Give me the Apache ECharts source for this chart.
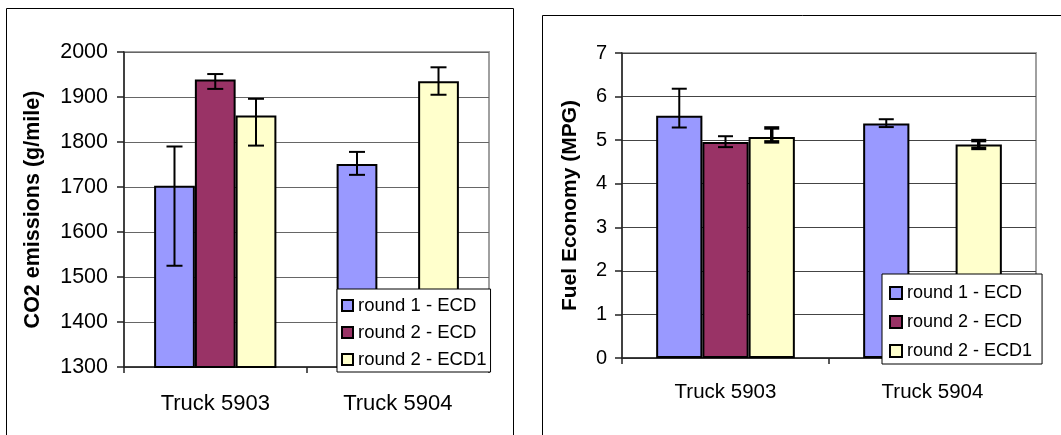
<!DOCTYPE html>
<html>
<head>
<meta charset="utf-8">
<script src="https://cdn.jsdelivr.net/npm/echarts@6/dist/echarts.min.js"></script>
<style>
html,body{margin:0;padding:0;background:#fff;}
#chart{width:1061px;height:435px;}
</style>
</head>
<body>
<div id="chart"></div>
<script>
// ---- data ----
const categories = ['Truck 5903', 'Truck 5904'];
const seriesNames = ['round 1 - ECD', 'round 2 - ECD', 'round 2 - ECD1'];

// CO2 emissions (g/mile)
const co2Round1 = [1703, 1751];
const co2Round2 = [1939, null];
const co2Round2b = [1859, 1935];
const co2Round1Low = [1525, 1727];
const co2Round1High = [1790, 1778];
const co2Round2Low = [1918, null];
const co2Round2High = [1951, null];
const co2Round2bLow = [1792, 1905];
const co2Round2bHigh = [1896, 1966];

// Fuel economy (MPG)
const mpgRound1 = [5.56, 5.38];
const mpgRound2 = [4.96, null];
const mpgRound2b = [5.07, 4.90];
const mpgRound1Low = [5.29, 5.30];
const mpgRound1High = [6.18, 5.48];
const mpgRound2Low = [4.84, null];
const mpgRound2High = [5.09, null];
const mpgRound2bLow = [4.96, 4.81];
const mpgRound2bHigh = [5.28, 4.99];

const co2Ticks = [1300, 2000, 100];
const mpgTicks = [0, 7, 1];

// ---- styling ----
const colors = ['#9999FF', '#993366', '#FFFFCC'];
const FONT = 'Liberation Sans, Arial, sans-serif';
const GAP_RATIO = 0.33;

function errData(lows, highs) {
  const out = [];
  for (let i = 0; i < lows.length; i++) {
    if (lows[i] != null && highs[i] != null) out.push([i, lows[i], highs[i]]);
  }
  return out;
}

function errSeries(gridIdx, k, lows, highs, lw, capW) {
  return {
    type: 'custom',
    xAxisIndex: gridIdx,
    yAxisIndex: gridIdx,
    z: 5,
    silent: true,
    encode: { x: 0, y: [1, 2] },
    data: errData(lows, highs),
    renderItem: function (params, api) {
      const band = api.size([1, 0])[0];
      const barW = band * (1 - GAP_RATIO) / 3;
      const base = api.coord([api.value(0), api.value(1)]);
      const top = api.coord([api.value(0), api.value(2)]);
      const cx = base[0] + (k - 1) * barW;
      const style = { stroke: '#000', lineWidth: lw };
      const h = capW / 2;
      return {
        type: 'group',
        children: [
          { type: 'line', shape: { x1: cx, y1: top[1], x2: cx, y2: base[1] }, style: style },
          { type: 'line', shape: { x1: cx - h, y1: top[1], x2: cx + h, y2: top[1] }, style: style },
          { type: 'line', shape: { x1: cx - h, y1: base[1], x2: cx + h, y2: base[1] }, style: style }
        ]
      };
    }
  };
}

function barSeries(gridIdx, k, values) {
  return {
    type: 'bar',
    name: seriesNames[k],
    xAxisIndex: gridIdx,
    yAxisIndex: gridIdx,
    data: values,
    barGap: '0%',
    barCategoryGap: (GAP_RATIO * 100) + '%',
    itemStyle: { color: colors[k], borderColor: '#000', borderWidth: 2 },
    z: 3
  };
}

function xAxisCfg(gridIdx, fs, margin) {
  return {
    type: 'category',
    gridIndex: gridIdx,
    data: categories,
    axisLine: { show: true, lineStyle: { color: '#222', width: 1.5 } },
    axisTick: { show: true, length: 6, lineStyle: { color: '#222', width: 1.5 } },
    axisLabel: { color: '#000', fontSize: fs, fontFamily: FONT, margin: margin },
    splitLine: { show: false }
  };
}

function yAxisCfg(gridIdx, ticks, name, nameFs, nameGap, fs, margin, gridColor) {
  return {
    type: 'value',
    gridIndex: gridIdx,
    min: ticks[0],
    max: ticks[1],
    interval: ticks[2],
    name: name,
    nameLocation: 'middle',
    nameGap: nameGap,
    nameTextStyle: { color: '#000', fontSize: nameFs, fontWeight: 'bold', fontFamily: FONT },
    axisLine: { show: true, lineStyle: { color: '#222', width: 1.5 } },
    axisTick: { show: true, length: 7, lineStyle: { color: '#222', width: 1.5 } },
    axisLabel: { color: '#000', fontSize: fs, fontFamily: FONT, margin: margin, formatter: function (v) { return String(v); } },
    splitLine: { show: true, lineStyle: { color: gridColor, width: 1.2 } }
  };
}

function legendCfg(gridIdx, left, top, fs, gap, pad, sym) {
  return {
    orient: 'vertical',
    left: left,
    top: top,
    data: seriesNames.map(function (n, i) {
      return { name: n, itemStyle: { color: colors[i], borderColor: '#000', borderWidth: 2 } };
    }),
    backgroundColor: '#fff',
    borderColor: '#000',
    borderWidth: 1,
    borderRadius: 0,
    padding: pad,
    itemGap: gap,
    itemWidth: sym,
    itemHeight: sym,
    itemTextGap: 5,
    icon: 'rect',
    textStyle: { color: '#000', fontSize: fs, fontFamily: FONT },
    selectedMode: false,
    z: 10
  };
}

const option = {
  backgroundColor: '#fff',
  animation: false,
  graphic: [
    { type: 'rect', shape: { x: 6.5, y: 8.5, width: 507, height: 450 }, style: { fill: null, stroke: '#000', lineWidth: 1 }, z: 0, silent: true },
    { type: 'rect', shape: { x: 542.5, y: 15.5, width: 540, height: 450 }, style: { fill: null, stroke: '#000', lineWidth: 1 }, z: 0, silent: true }
  ],
  grid: [
    { left: 124, top: 52, width: 365, height: 315, show: true, backgroundColor: '#fff', borderColor: '#a0a0a0', borderWidth: 2 },
    { left: 622, top: 53, width: 414, height: 305, show: true, backgroundColor: '#fff', borderColor: '#a0a0a0', borderWidth: 2 }
  ],
  xAxis: [
    xAxisCfg(0, 22, 26),
    xAxisCfg(1, 20.5, 24)
  ],
  yAxis: [
    yAxisCfg(0, co2Ticks, 'CO2 emissions (g/mile)', 21.5, 80, 21.5, 16, '#666'),
    yAxisCfg(1, mpgTicks, 'Fuel Economy (MPG)', 21, 41, 20, 15, '#444')
  ],
  legend: [
    legendCfg(0, 337, 289, 18.5, 8, [7, 4, 3, 4], 11),
    legendCfg(1, 882, 274, 18, 11, [10, 10, 4, 7], 12)
  ],
  series: [
    barSeries(0, 0, co2Round1),
    barSeries(0, 1, co2Round2),
    barSeries(0, 2, co2Round2b),
    barSeries(1, 0, mpgRound1),
    barSeries(1, 1, mpgRound2),
    barSeries(1, 2, mpgRound2b),
    errSeries(0, 0, co2Round1Low, co2Round1High, 2, 16),
    errSeries(0, 1, co2Round2Low, co2Round2High, 2, 16),
    errSeries(0, 2, co2Round2bLow, co2Round2bHigh, 2, 16),
    errSeries(1, 0, mpgRound1Low, mpgRound1High, 2, 15),
    errSeries(1, 1, mpgRound2Low, mpgRound2High, 2, 15),
    errSeries(1, 2, mpgRound2bLow, mpgRound2bHigh, 3.5, 15)
  ]
};

const chart = echarts.init(document.getElementById('chart'), null, { renderer: 'canvas' });
chart.setOption(option);
</script>
</body>
</html>
